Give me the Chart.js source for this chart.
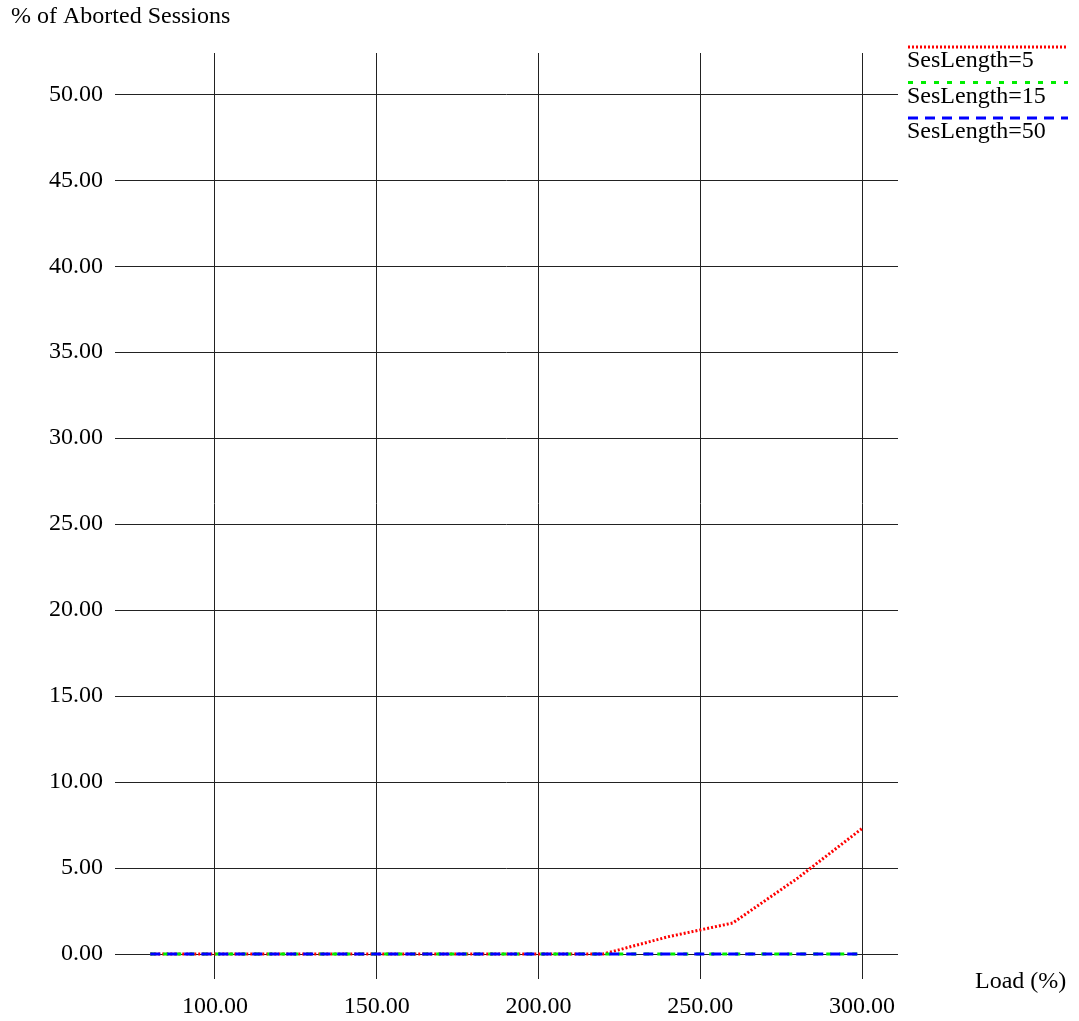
<!DOCTYPE html>
<html>
<head>
<meta charset="utf-8">
<script src="https://cdn.jsdelivr.net/npm/chart.js@4/dist/chart.umd.min.js"></script>
<style>
    body { margin: 0; background: #ffffff; }
    #wrap { width: 1079px; height: 1021px; }
</style>
</head>
<body>
<div id="wrap"><canvas id="chart" width="1079" height="1021"></canvas></div>
<script>
// навантаження (%), по осі X
const loads = [80, 100, 120, 140, 160, 180, 200, 220, 240, 260, 280, 300];
// відсоток перерваних сесій для кожної довжини сесії
const ses5 = [0, 0, 0, 0, 0, 0, 0, 0, 1.0, 1.8, 4.4, 7.3];
const ses15 = [0, 0, 0, 0, 0, 0, 0, 0, 0, 0, 0, 0];
const ses50 = [0, 0, 0, 0, 0, 0, 0, 0, 0, 0, 0, 0];
const seriesNames = ["SesLength=5", "SesLength=15", "SesLength=50"];
const xTicks = [100, 150, 200, 250, 300];
const yTicks = [0, 5, 10, 15, 20, 25, 30, 35, 40, 45, 50];

const FONT = "'Liberation Serif', 'Times New Roman', serif";
const FONT_SIZE = 24;

function toPoints(values) {
    return loads.map((x, i) => ({ x: x, y: values[i] }));
}

// легенда і підписи осей малюються вручну
const decorPlugin = {
    id: "decor",
    afterDraw(chart) {
        const ctx = chart.ctx;
        ctx.save();
        ctx.fillStyle = "#000000";
        ctx.font = FONT_SIZE + "px " + FONT;
        ctx.textBaseline = "alphabetic";
        ctx.textAlign = "left";
        ctx.fillText("% of Aborted Sessions", 11, 23);
        ctx.fillText("Load (%)", 975, 988);

        chart.data.datasets.forEach((ds, i) => {
            const y = 47 + i * 35.5;
            ctx.beginPath();
            ctx.setLineDash(ds.borderDash);
            ctx.lineWidth = ds.borderWidth;
            ctx.strokeStyle = ds.borderColor;
            ctx.moveTo(908, y);
            ctx.lineTo(1068, y);
            ctx.stroke();
            ctx.setLineDash([]);
            ctx.fillStyle = "#000000";
            ctx.fillText(ds.label, 907, y + 20);
        });
        ctx.restore();
    },
};

const data = {
    datasets: [
        {
            label: seriesNames[0],
            data: toPoints(ses5),
            borderColor: "#ff0000",
            borderDash: [2, 2],
            borderWidth: 3,
            clip: false,
            order: 3,
        },
        {
            label: seriesNames[1],
            data: toPoints(ses15),
            borderColor: "#00ee00",
            borderDash: [5, 8],
            borderWidth: 3,
            clip: false,
            order: 2,
        },
        {
            label: seriesNames[2],
            data: toPoints(ses50),
            borderColor: "#0000ff",
            borderDash: [10, 7],
            borderWidth: 3,
            clip: false,
            order: 1,
        },
    ],
};

const options = {
    responsive: false,
    animation: false,
    layout: { padding: { top: 53, right: 181, left: 0, bottom: 0 } },
    elements: {
        point: { radius: 0, hoverRadius: 0 },
        line: { tension: 0, fill: false },
    },
    plugins: {
        legend: { display: false },
        tooltip: { enabled: false },
    },
    scales: {
        x: {
            type: "linear",
            min: 69.1,
            max: 311.1,
            afterBuildTicks: (scale) => {
                scale.ticks = xTicks.map((v) => ({ value: v }));
            },
            afterFit: (scale) => {
                scale.height = 67;
            },
            border: { display: false },
            grid: { color: "#222222", lineWidth: 1, tickLength: 25, drawTicks: true },
            ticks: {
                color: "#000000",
                font: { family: FONT, size: FONT_SIZE },
                padding: 13,
                maxRotation: 0,
                callback: (v) => v.toFixed(2),
            },
        },
        y: {
            type: "linear",
            min: 0,
            max: 52.4,
            afterBuildTicks: (scale) => {
                scale.ticks = yTicks.map((v) => ({ value: v }));
            },
            afterFit: (scale) => {
                scale.width = 115;
            },
            border: { display: false },
            grid: { color: "#222222", lineWidth: 1, drawTicks: false },
            ticks: {
                color: "#000000",
                font: { family: FONT, size: FONT_SIZE },
                padding: 12,
                callback: (v) => v.toFixed(2),
            },
        },
    },
};

new Chart(document.getElementById("chart").getContext("2d"), {
    type: "line",
    data: data,
    options: options,
    plugins: [decorPlugin],
});
</script>
</body>
</html>
